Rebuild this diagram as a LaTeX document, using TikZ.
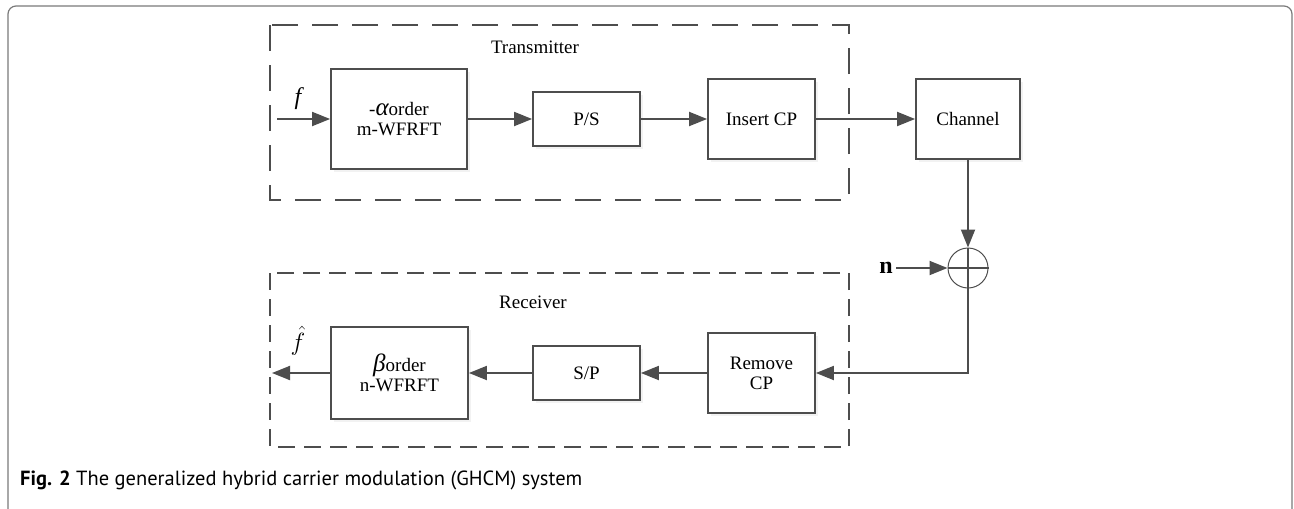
\documentclass[tikz,border=0pt]{standalone}
\usepackage{fontspec}
\setmainfont{Liberation Serif}
\newfontfamily\capfont{PT Sans}
\usetikzlibrary{arrows.meta,shadows}

\definecolor{linegray}{HTML}{4D4D4D}
\definecolor{framegray}{HTML}{7A7A7A}

\tikzset{
  blk/.style={draw=linegray, line width=1.8pt, fill=white, align=center,
    inner sep=0pt, font=\fontsize{19}{20}\selectfont,
    drop shadow={shadow xshift=3pt, shadow yshift=-3pt, fill=black!10}},
  arr/.style={draw=linegray, line width=1.9pt,
    -{Triangle[length=18pt, width=14pt]}},
  line/.style={draw=linegray, line width=1.9pt},
  group/.style={draw=linegray, line width=2.2pt},
}
\newcommand{\grk}[1]{{\fontsize{25}{20}\selectfont\itshape #1}}

\begin{document}
\begin{tikzpicture}[x=1pt, y=-1pt]
  \useasboundingbox (0,0) rectangle (1294,509);
  % frame round the figure
  \draw [framegray, line width=1.2pt, rounded corners=8pt] (8,509) -- (8,6) -- (1292,6) -- (1292,509);

  % transmitter and receiver groups
  \draw [group, dash pattern=on 26pt off 14pt] (270,25) rectangle (849,200);
  \draw [group, dash pattern=on 17pt off 9pt] (270,273) rectangle (849,447);
  \node at (535,47) (tx) [font=\fontsize{19}{20}\selectfont] {Transmitter};
  \node at (533,302) (rx) [font=\fontsize{19}{20}\selectfont] {Receiver};

  % upper chain
  \node at (399,119) (wfrft) [blk, minimum width=136pt, minimum height=100pt] {-\grk{α}order\\m-WFRFT};
  \node at (586.5,119) (ps) [blk, minimum width=107pt, minimum height=54pt] {P/S};
  \node at (761.5,119) (icp) [blk, minimum width=107pt, minimum height=80pt] {Insert CP};
  \node at (968,119) (chan) [blk, minimum width=104pt, minimum height=80pt] {Channel};
  \coordinate (fin) at (277,119);
  \node at (298,99) (f) [font=\fontsize{24}{24}\selectfont] {\itshape f};

  \draw [arr] (fin) -- (wfrft);
  \draw [arr] (wfrft) -- (ps);
  \draw [arr] (ps) -- (icp);
  \draw [arr] (icp) -- (chan);

  % noise is added
  \node at (968,268) (sum) [circle, draw=linegray, line width=1pt, minimum size=40pt, inner sep=0pt] {};
  \draw [line, line width=1.3pt] (sum.west) -- (sum.east);
  \node at (886,268) (n) [font=\fontsize{24}{24}\selectfont] {$\mathbf{n}$};
  \draw [arr] (chan) -- (sum.north);
  \draw [arr] (n) -- (sum.west);

  % lower chain
  \node at (761.5,373) (rcp) [blk, minimum width=107pt, minimum height=80pt] {Remove\\CP};
  \node at (586.5,373) (sp) [blk, minimum width=107pt, minimum height=54pt] {S/P};
  \node at (399.5,373) (nwfrft) [blk, minimum width=137pt, minimum height=92pt] {\grk{β}order\\n-WFRFT};
  \coordinate (fout) at (272,373);
  \node at (298,341) (fhat) [inner sep=0pt, font=\fontsize{24}{24}\selectfont] {$\hat{f}$};

  \draw [line] (sum.north) -- (sum.south);
  \draw [arr] (sum.south) |- (rcp);
  \draw [arr] (rcp) -- (sp);
  \draw [arr] (sp) -- (nwfrft);
  \draw [arr] (nwfrft) -- (fout);

  % caption
  \node at (20,480) (cap) [anchor=west, inner sep=0pt, font=\capfont\fontsize{20.5}{22}\selectfont] {\textbf{Fig. 2} The generalized hybrid carrier modulation (GHCM) system};
\end{tikzpicture}
\end{document}
